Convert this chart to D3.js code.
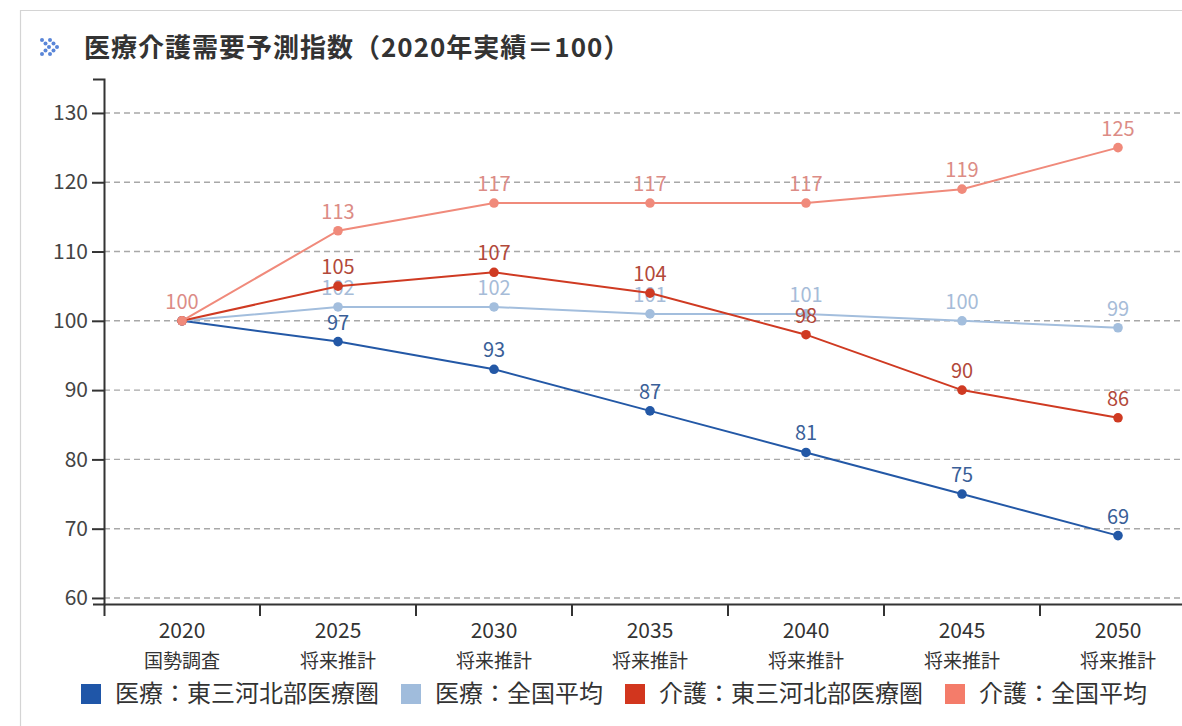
<!DOCTYPE html>
<html><head><meta charset="utf-8">
<script src="https://cdn.jsdelivr.net/npm/d3@7"></script>
<style>
html,body{margin:0;padding:0;background:#fff;}
svg{display:block;font-family:"Noto Sans CJK JP","Noto Sans",sans-serif;}
</style></head>
<body>
<svg id="chart" width="1182" height="726"></svg>
<script>
const title = "医療介護需要予測指数（2020年実績＝100）";
const years = ["2020","2025","2030","2035","2040","2045","2050"];
const subLabels = ["国勢調査","将来推計","将来推計","将来推計","将来推計","将来推計","将来推計"];
const yTicks = [60,70,80,90,100,110,120,130];
const seriesNames = ["医療：東三河北部医療圏","医療：全国平均","介護：東三河北部医療圏","介護：全国平均"];
const iryoHigashi = [100,97,93,87,81,75,69];
const iryoZenkoku = [100,102,102,101,101,100,99];
const kaigoHigashi = [100,105,107,104,98,90,86];
const kaigoZenkoku = [100,113,117,117,117,119,125];
const seriesValues = [iryoHigashi, iryoZenkoku, kaigoHigashi, kaigoZenkoku];
const lineColors = ["#2358a6","#a3bedd","#cf3a22","#f08a7b"];
const labelColors = ["#3a5f98","#a6bcd8","#b2493a","#dc8c86"];
const legendColors = ["#1f56a8","#a0bcdc","#d2361e","#f47c6a"];
const showFirstLabel = [false,false,false,true];

const svg = d3.select("#chart");

// panel border
svg.append("path").attr("d","M20.5,726 V10.5 H1182").attr("fill","none").attr("stroke","#d4d4d4").attr("stroke-width",1.2);

// title icon (dotted double chevron)
const icon = svg.append("g").attr("fill","#5a86d8");
[0,8].forEach(dx=>{
  [[0,0],[3.5,3.5],[7,7],[3.5,10.5],[0,14]].forEach(([px,py])=>{
    icon.append("circle").attr("cx",42+dx+px).attr("cy",40+py).attr("r",2);
  });
});
svg.append("text").attr("x",84).attr("y",57).attr("font-size",26).attr("font-weight","bold")
  .attr("letter-spacing",1).attr("fill","#333").text(title);

const x = d3.scaleBand().domain(years).range([104,1196]).padding(0);
const y = d3.scaleLinear().domain([59.13,134.9]).range([604,79]);
const cx = d => x(d) + x.bandwidth()/2;

// gridlines
svg.append("g").selectAll("line").data(yTicks).join("line")
  .attr("x1",104).attr("x2",1182).attr("y1",d=>y(d)).attr("y2",d=>y(d))
  .attr("stroke","#a8a8a8").attr("stroke-width",1.4).attr("stroke-dasharray","6,4");

// y axis
const yAxis = svg.append("g").attr("transform","translate(104,0)")
  .call(d3.axisLeft(y).tickValues(yTicks).tickSize(12).tickSizeOuter(11).tickPadding(4));
yAxis.selectAll("path,line").attr("stroke","#333").attr("stroke-width",2);
yAxis.selectAll("text").attr("font-size",21).attr("fill","#444")
  .attr("font-family","'Noto Sans CJK JP',sans-serif");

// x axis
const xAxis = svg.append("g").attr("transform","translate(0,604)")
  .call(d3.axisBottom(x).tickSizeInner(0).tickSizeOuter(12).tickPadding(0).tickFormat(""));
xAxis.selectAll("path").attr("stroke","#333").attr("stroke-width",2);
xAxis.selectAll(".tick line").remove();
svg.append("g").selectAll("line").data(years.slice(1)).join("line")
  .attr("x1",d=>x(d)).attr("x2",d=>x(d)).attr("y1",604).attr("y2",616)
  .attr("stroke","#333").attr("stroke-width",2);
const xl = svg.append("g");
years.forEach((yr,i)=>{
  xl.append("text").attr("x",cx(yr)).attr("y",638).attr("text-anchor","middle")
    .attr("font-size",21).attr("fill","#333").text(yr);
  xl.append("text").attr("x",cx(yr)).attr("y",668).attr("text-anchor","middle")
    .attr("font-size",19).attr("fill","#333").text(subLabels[i]);
});

// series
const line = d3.line().x((d,i)=>cx(years[i])).y(d=>y(d));
seriesValues.forEach((vals,s)=>{
  const g = svg.append("g");
  g.append("path").datum(vals).attr("d",line).attr("fill","none")
    .attr("stroke",lineColors[s]).attr("stroke-width",2);
  g.selectAll("circle").data(vals).join("circle")
    .attr("cx",(d,i)=>cx(years[i])).attr("cy",d=>y(d)).attr("r",4.8)
    .attr("fill",lineColors[s]);
  g.selectAll("text").data(vals.map((v,i)=>({v,i})).filter(d=>d.i>0||showFirstLabel[s]))
    .join("text").attr("x",d=>cx(years[d.i])).attr("y",d=>y(d.v)-12)
    .attr("text-anchor","middle").attr("font-size",20).attr("fill",labelColors[s])
    .text(d=>d.v);
});

// legend
const lg = svg.append("g");
let lx = 81;
seriesNames.forEach((nm,i)=>{
  lg.append("rect").attr("x",lx).attr("y",684).attr("width",20).attr("height",20).attr("fill",legendColors[i]);
  const t = lg.append("text").attr("x",lx+34).attr("y",702).attr("font-size",24).attr("fill","#333").text(nm);
  lx = lx + 34 + t.node().getComputedTextLength() + 22;
});
</script>
</body></html>
